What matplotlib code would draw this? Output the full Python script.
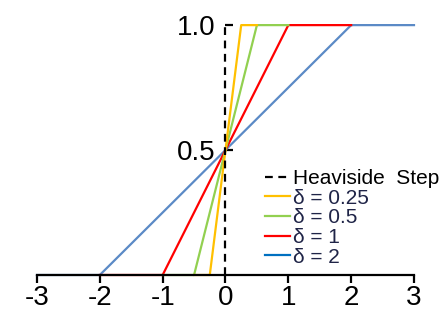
import matplotlib
matplotlib.use("Agg")
import matplotlib.pyplot as plt
from matplotlib.lines import Line2D

plt.rcParams['font.family'] = ['Liberation Sans', 'DejaVu Sans']

# ramp approximations of the step, one per delta
step_x = [0, 0]
step_y = [0, 1]

d025_x = [-0.5, -0.25, 0.25, 0.5]
d025_y = [0, 0, 1, 1]
d05_x = [-1, -0.5, 0.5, 1]
d05_y = [0, 0, 1, 1]
d1_x = [-2, -1, 1, 2]
d1_y = [0, 0, 1, 1]
d2_x = [-3, -2, 2, 3]
d2_y = [0, 0, 1, 1]

labels = ["Heaviside  Step", "\u03b4 = 0.25", "\u03b4 = 0.5", "\u03b4 = 1", "\u03b4 = 2"]
x_ticks = [-3, -2, -1, 0, 1, 2, 3]
y_ticks = [0.5, 1.0]

fig = plt.figure(figsize=(4.44, 3.22), dpi=100)
ax = fig.add_axes([0.0833, 0.146, 0.8491, 0.776])

ax.plot(d2_x, d2_y, color="#5B8AC6", lw=1.6, clip_on=False)
ax.plot(d1_x, d1_y, color="#FF0000", lw=1.6, clip_on=False)
ax.plot(d05_x, d05_y, color="#92D050", lw=1.6, clip_on=False)
ax.plot(d025_x, d025_y, color="#FFC000", lw=1.6, clip_on=False)
ax.plot(step_x, step_y, color="black", lw=1.6, ls=(0, (3.5, 2.5)), clip_on=False)

ax.set_xlim(-3, 3)
ax.set_ylim(0, 1)

for s in ["top", "right"]:
    ax.spines[s].set_visible(False)
ax.spines["left"].set_position(("data", 0))
ax.spines["left"].set_color("none")
ax.spines["bottom"].set_linewidth(1.6)

ax.set_xticks(x_ticks)
ax.set_xticklabels([str(v) for v in x_ticks])
ax.set_yticks(y_ticks)
ax.set_yticklabels(["%.1f" % v for v in y_ticks])
ax.tick_params(axis="x", direction="out", length=6, width=1.6, labelsize=20, pad=1)
ax.tick_params(axis="y", direction="in", length=6, width=1.6, labelsize=20, pad=7,
               color="black")

handles = [
    Line2D([], [], color="black", lw=1.6, ls=(0, (3.5, 2.5))),
    Line2D([], [], color="#FFC000", lw=1.6),
    Line2D([], [], color="#92D050", lw=1.6),
    Line2D([], [], color="#FF0000", lw=1.6),
    Line2D([], [], color="#0070C0", lw=1.6),
]
leg = fig.legend(handles, labels, loc="upper left", bbox_to_anchor=(0.597, 0.475),
                 frameon=False, fontsize=15, handlelength=1.2, handletextpad=0.12,
                 labelspacing=0.03, borderpad=0, borderaxespad=0)
for i, t in enumerate(leg.get_texts()):
    t.set_color("black" if i == 0 else "#1F2447")

fig.savefig("out.png", dpi=100)
